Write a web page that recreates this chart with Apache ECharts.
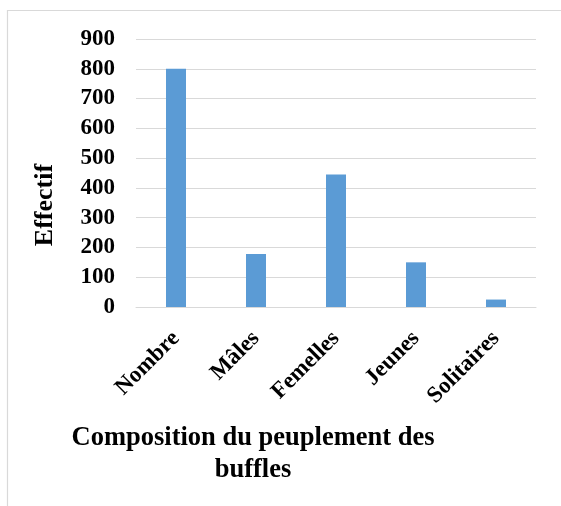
<!DOCTYPE html>
<html>
<head>
<meta charset="utf-8">
<script src="https://cdn.jsdelivr.net/npm/echarts@6/dist/echarts.min.js"></script>
<style>
html,body{margin:0;padding:0;background:#fff;}
#chart{width:561px;height:506px;}
</style>
</head>
<body>
<div id="chart"></div>
<script>
var categories = ['Nombre', 'Mâles', 'Femelles', 'Jeunes', 'Solitaires'];
var values = [800, 178, 445, 150, 25];
var yMin = 0, yMax = 900, yInterval = 100;
var yAxisTitle = 'Effectif';
var xAxisTitle = 'Composition du peuplement des\nbuffles';

var FONT = '"Liberation Serif", "Times New Roman", serif';
var chart = echarts.init(document.getElementById('chart'), null, {renderer: 'canvas'});
chart.setOption({
  animation: false,
  backgroundColor: '#ffffff',
  grid: {left: 136, right: 25, top: 39, bottom: 199, containLabel: false, outerBoundsMode: 'none'},
  xAxis: {
    type: 'category',
    data: categories,
    axisLine: {show: true, lineStyle: {color: '#d9d9d9', width: 1}},
    axisTick: {show: false},
    axisLabel: {
      rotate: 45, interval: 0, margin: 28,
      color: '#000', fontFamily: FONT, fontWeight: 'bold', fontSize: 23
    },
    splitLine: {show: false}
  },
  yAxis: {
    type: 'value',
    min: yMin, max: yMax, interval: yInterval,
    axisLine: {show: false},
    axisTick: {show: false},
    axisLabel: {margin: 21, color: '#000', fontFamily: FONT, fontWeight: 'bold', fontSize: 23},
    splitLine: {show: true, lineStyle: {color: '#d9d9d9', width: 1}}
  },
  series: [{
    type: 'bar',
    data: values,
    barWidth: 20,
    itemStyle: {color: '#5b9bd5'}
  }],
  graphic: [
    {type: 'rect', shape: {x: 7.5, y: 10.5, width: 700, height: 700}, style: {fill: 'none', stroke: '#d9d9d9', lineWidth: 1.2}, silent: true},
    {type: 'text', x: 45, y: 205, rotation: Math.PI / 2,
      style: {text: yAxisTitle, fill: '#000', font: 'bold 26px ' + FONT, textAlign: 'center', textVerticalAlign: 'middle'}},
    {type: 'text', x: 253, y: 454,
      style: {text: xAxisTitle, fill: '#000', font: 'bold 26.5px ' + FONT, textAlign: 'center', textVerticalAlign: 'middle', lineHeight: 32}}
  ]
});
</script>
</body>
</html>
